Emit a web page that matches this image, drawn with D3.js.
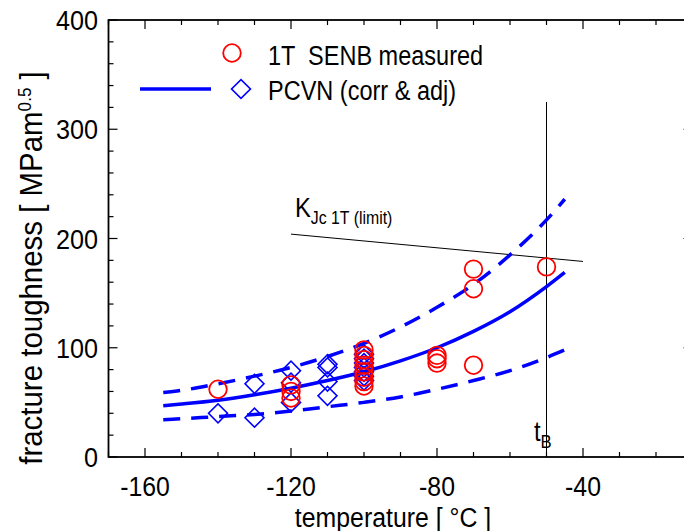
<!DOCTYPE html>
<html>
<head>
<meta charset="utf-8">
<script src="https://cdn.jsdelivr.net/npm/d3@7"></script>
<style>
  body { margin: 0; background: #fff; }
  text { font-family: "Liberation Sans", Arial, sans-serif; fill: #000; white-space: pre; }
</style>
</head>
<body>
<script>
// chart values
const tempTicks = [-160, -120, -80, -40];
const toughTicks = [0, 100, 200, 300, 400];

// 1T SENB measured (red circles)
const senbTemp = [-140, -120, -120, -120, -100, -100, -100, -100, -100, -100, -100, -100, -80, -80, -80, -70, -70, -70, -50];
const senbK = [62, 66, 60, 54, 98, 93, 89, 84, 78, 73, 69, 65, 93, 90, 86, 172, 154, 84, 174];

// PCVN (corr & adj) (blue diamonds)
const pcvnTemp = [-140, -130, -130, -120, -120, -120, -110, -110, -110, -110, -100, -100, -100, -100, -100, -100, -100];
const pcvnK = [40, 67, 36, 79, 68, 50, 85, 82, 69, 56, 94, 90, 86, 82, 78, 74, 70];

// master curve and bounds
const curveTemp = [-155, -150, -140, -130, -120, -110, -100, -90, -80, -70, -60, -50, -45];
const medianK = [47, 48.5, 52, 57, 63, 70, 78, 88, 100, 115, 133, 156, 169];
const upperK = [59, 61, 67, 74, 82, 92, 104, 119, 137, 158, 185, 217, 236];
const lowerK = [34, 35, 37, 39, 42, 46, 50, 55, 62, 70, 79, 91, 98];

// K_Jc 1T limit line and t_B marker
const limitTemp = [-120, -40];
const limitK = [204, 179];
const tBTemp = -50;
const tBTop = 325;

const width = 684;
const height = 531;

const x = d3.scaleLinear().domain([-170, -10]).range([108.5, 692.5]);
const y = d3.scaleLinear().domain([0, 400]).range([457, 20]);

const svg = d3.select('body').append('svg')
  .attr('width', width)
  .attr('height', height);

// text squeezed sideways, the original uses a narrow face
const label = (parent, tx, ty, sx, size, anchor, rot) => parent.append('g')
  .attr('transform', `translate(${tx},${ty})${rot ? ' rotate(' + rot + ')' : ''} scale(${sx},1)`)
  .append('text')
  .attr('text-anchor', anchor || 'start')
  .style('font-size', size + 'px');

const minorX = d3.range(-170, -9, 10);
const minorY = d3.range(0, 401, 20);

const gAxes = svg.append('g').attr('stroke', '#000').attr('stroke-width', 1.2);

// ticks point inward on all four sides
gAxes.selectAll('.mxb').data(minorX).join('line')
  .attr('x1', d => x(d)).attr('x2', d => x(d))
  .attr('y1', y(0)).attr('y2', d => y(0) - (tempTicks.includes(d) ? 9 : 5));
gAxes.selectAll('.mxt').data(minorX).join('line')
  .attr('x1', d => x(d)).attr('x2', d => x(d))
  .attr('y1', y(400)).attr('y2', d => y(400) + (tempTicks.includes(d) ? 9 : 5));
gAxes.selectAll('.myl').data(minorY).join('line')
  .attr('y1', d => y(d)).attr('y2', d => y(d))
  .attr('x1', x(-170)).attr('x2', d => x(-170) + (toughTicks.includes(d) ? 9 : 5));
gAxes.selectAll('.myr').data(minorY).join('line')
  .attr('y1', d => y(d)).attr('y2', d => y(d))
  .attr('x1', x(-10)).attr('x2', d => x(-10) - (toughTicks.includes(d) ? 9 : 5));

svg.append('rect')
  .attr('x', x(-170)).attr('y', y(400))
  .attr('width', x(-10) - x(-170)).attr('height', y(0) - y(400))
  .attr('fill', 'none').attr('stroke', '#000').attr('stroke-width', 1.8);

// tick labels
tempTicks.forEach(d => label(svg, x(d), 496, 0.92, 27, 'middle').text(String(d)));
toughTicks.forEach(d => label(svg, 98, y(d) + 10, 0.9, 28, 'end').text(String(d)));

// axis titles
label(svg, 393, 527, 0.92, 27, 'middle').text('temperature [ °C ]');

const yTitle = label(svg, 42, 268, 0.95, 31, 'middle', -90);
yTitle.append('tspan').text('fracture toughness [ MPam');
yTitle.append('tspan').attr('dy', -11).style('font-size', '18px').text('0.5');
yTitle.append('tspan').attr('dy', 11).text(' ]');

// plot area
const plot = svg.append('g');

const line = d3.line()
  .x(d => x(d[0]))
  .y(d => y(d[1]))
  .curve(d3.curveMonotoneX);

// K_Jc limit
plot.append('path')
  .datum(d3.zip(limitTemp, limitK))
  .attr('d', d3.line().x(d => x(d[0])).y(d => y(d[1])))
  .attr('fill', 'none').attr('stroke', '#000').attr('stroke-width', 1);

// t_B vertical line
plot.append('line')
  .attr('x1', x(tBTemp)).attr('x2', x(tBTemp))
  .attr('y1', y(tBTop)).attr('y2', y(0))
  .attr('stroke', '#000').attr('stroke-width', 1);

[[medianK, null], [upperK, '17,11'], [lowerK, '17,11']].forEach(([vals, dash]) => {
  plot.append('path')
    .datum(d3.zip(curveTemp, vals))
    .attr('d', line)
    .attr('fill', 'none')
    .attr('stroke', '#0000ff')
    .attr('stroke-width', 3.5)
    .attr('stroke-dasharray', dash);
});

const diamond = d3.symbol().type(d3.symbolSquare).size(180);

plot.append('g').selectAll('path').data(d3.zip(pcvnTemp, pcvnK)).join('path')
  .attr('d', diamond)
  .attr('transform', d => `translate(${x(d[0])},${y(d[1])}) rotate(45)`)
  .attr('fill', 'none').attr('stroke', '#0000ff').attr('stroke-width', 1.6);

plot.append('g').selectAll('circle').data(d3.zip(senbTemp, senbK)).join('circle')
  .attr('cx', d => x(d[0])).attr('cy', d => y(d[1]))
  .attr('r', 8.8)
  .attr('fill', 'none').attr('stroke', '#ff0000').attr('stroke-width', 1.8);

// labels inside the plot
const kLabel = label(svg, 295, 217, 0.88, 27, 'start');
kLabel.append('tspan').text('K');
kLabel.append('tspan').attr('dy', 7).style('font-size', '18px').text('Jc 1T (limit)');

const tLabel = label(svg, 534, 441, 0.88, 27, 'start');
tLabel.append('tspan').text('t');
tLabel.append('tspan').attr('dy', 7).style('font-size', '19px').text('B');

// legend
const legend = svg.append('g');
legend.append('circle')
  .attr('cx', 232).attr('cy', 53).attr('r', 8.8)
  .attr('fill', 'none').attr('stroke', '#ff0000').attr('stroke-width', 1.8);
legend.append('line')
  .attr('x1', 140).attr('x2', 211).attr('y1', 89).attr('y2', 89)
  .attr('stroke', '#0000ff').attr('stroke-width', 3.5);
legend.append('path')
  .attr('d', diamond)
  .attr('transform', 'translate(241,89) rotate(45)')
  .attr('fill', 'none').attr('stroke', '#0000ff').attr('stroke-width', 1.6);
label(legend, 268, 65, 0.84, 28, 'start').text('1T  SENB measured');
label(legend, 268, 100, 0.84, 28, 'start').text('PCVN (corr & adj)');
</script>
</body>
</html>
